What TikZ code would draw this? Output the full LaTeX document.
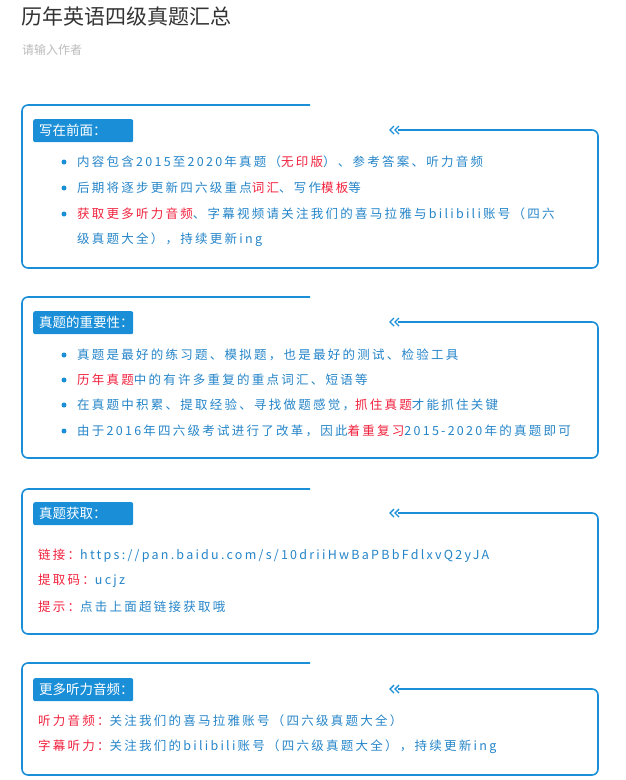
\documentclass[tikz,border=0pt]{standalone}
\usepackage{fontspec}
\setmainfont{Noto Sans CJK SC}
\newfontfamily\spaced[LetterSpace=18]{Noto Sans CJK SC}
\definecolor{bl}{HTML}{1A8FD8}
\definecolor{tb}{HTML}{2484C8}
\definecolor{rd}{HTML}{F0203C}
\definecolor{tt}{HTML}{333333}
\definecolor{gy}{HTML}{BBBBBB}
\newcommand{\R}[1]{\textcolor{rd}{#1}}
\tikzset{
 frame/.style={draw=bl,line width=1.6pt,rounded corners=6pt},
 lab/.style={fill=bl,text=white,rounded corners=2pt,minimum height=23pt,anchor=north west,font=\fontsize{13.5}{13.5}\selectfont,inner xsep=6pt,text width=88pt,align=left},
 txt/.style={anchor=west,text=tb,font=\spaced\fontsize{12.5}{12.5}\selectfont,inner sep=0pt},
 dot/.style={circle,fill=bl,inner sep=0pt,minimum size=5pt},
 chev/.style={draw=bl,line width=1.4pt}
}
\newcommand{\boxfr}[4]{% top, arrowy, bottom, name
 \draw[frame] (310,#1) -- (22,#1) -- (22,#3) -- (598,#3) -- (598,#2) -- (398,#2);
 \coordinate (#4c) at (390,#2);
 \draw[chev] ([shift={(4,-4)}]#4c) -- (#4c) -- ([shift={(4,4)}]#4c);
 \draw[chev] ([shift={(9,-4)}]#4c) -- ([shift={(5,0)}]#4c) -- ([shift={(9,4)}]#4c);
}
\begin{document}
\begin{tikzpicture}[x=1pt,y=-1pt]
\useasboundingbox (0,0) rectangle (625,780);
\node[anchor=west,text=tt,font=\fontsize{21}{21}\selectfont,inner sep=0pt] (title) at (21,16) {历年英语四级真题汇总};
\node[anchor=west,text=gy,font=\fontsize{12}{12}\selectfont,inner sep=0pt] (auth) at (22,50) {请输入作者};
% box 1
\boxfr{105}{130}{268}{b1}
\node[lab] (l1) at (33,119) {写在前面：};
\foreach \y/\n in {162/a,188/b,214/c} \node[dot] (d1\n) at (64,\y) {};
\node[txt] (t1a) at (77,162) {内容包含2015至2020年真题（\R{无印版}）、参考答案、听力音频};
\node[txt] (t1b) at (77,188) {后期将逐步更新四六级重点\R{词汇}、写作\R{模板}等};
\node[txt] (t1c) at (77,214) {\R{获取更多听力音频}、字幕视频请关注我们的喜马拉雅与bilibili账号（四六};
\node[txt] (t1d) at (77,240) {级真题大全），持续更新ing};
% box 2
\boxfr{297}{322}{458}{b2}
\node[lab] (l2) at (33,311) {真题的重要性：};
\foreach \y/\n in {355/a,380/b,405/c,431/d} \node[dot] (d2\n) at (64,\y) {};
\node[txt] (t2a) at (77,355) {真题是最好的练习题、模拟题，也是最好的测试、检验工具};
\node[txt] (t2b) at (77,380) {\R{历年真题}中的有许多重复的重点词汇、短语等};
\node[txt] (t2c) at (77,405) {在真题中积累、提取经验、寻找做题感觉，\R{抓住真题}才能抓住关键};
\node[txt] (t2d) at (77,431) {由于2016年四六级考试进行了改革，因此\R{着重复习}2015-2020年的真题即可};
% box 3
\boxfr{489}{513}{634}{b3}
\node[lab] (l3) at (33,502) {真题获取：};
\node[txt] (t3a) at (38,556) {\R{链接：}https://pan.baidu.com/s/10driiHwBaPBbFdlxvQ2yJA};
\node[txt] (t3b) at (38,581) {\R{提取码：}ucjz};
\node[txt] (t3c) at (38,607) {\R{提示：}点击上面超链接获取哦};
% box 4
\boxfr{663}{689}{775}{b4}
\node[lab] (l4) at (33,678) {更多听力音频：};
\node[txt] (t4a) at (38,721) {\R{听力音频：}关注我们的喜马拉雅账号（四六级真题大全）};
\node[txt] (t4b) at (38,747) {\R{字幕听力：}关注我们的bilibili账号（四六级真题大全），持续更新ing};
\end{tikzpicture}
\end{document}
